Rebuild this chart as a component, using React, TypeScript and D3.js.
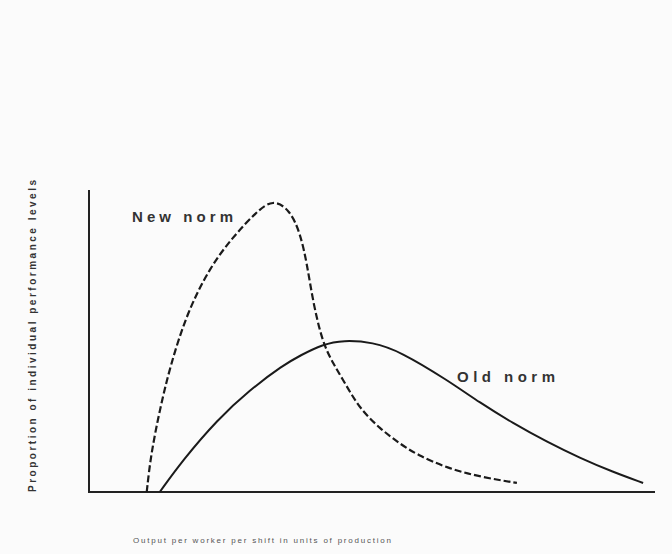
import React, { useEffect, useRef } from 'react';
import * as d3 from 'd3';

const W = 672;
const H = 554;

// output level (0-100 of axis) vs relative frequency (0-100 of axis)
const newNormX = [10.2, 10.9, 12.5, 14.3, 17.3, 21.4, 25.4, 29.6, 32.5, 35.5, 37.3, 38.5, 39.6, 41.3, 43.1, 45.6, 47.9, 51.4, 54.9, 58.0, 63.3, 69.1, 75.6];
const newNormY = [0, 12.0, 27.2, 41.4, 59.3, 74.5, 84.4, 92.8, 97.0, 93.4, 85.8, 75.8, 62.6, 49.3, 42.7, 34.8, 27.5, 21.0, 16.0, 12.3, 7.9, 5.0, 3.0];

const oldNormX = [12.5, 16.6, 22.6, 28.4, 34.3, 37.3, 41.3, 44.9, 50.2, 54.9, 63.3, 69.1, 74.9, 80.9, 86.7, 92.6, 97.9];
const oldNormY = [0, 10.6, 23.8, 33.8, 42.0, 45.2, 48.9, 50.3, 49.6, 46.6, 37.1, 29.5, 22.8, 16.6, 11.3, 6.6, 3.0];

const seriesNames = ['New norm', 'Old norm'];
const yLabel = 'Proportion of individual performance levels';
const xLabel = 'Output per worker per shift in units of production';

export default function App() {
  const ref = useRef<SVGSVGElement>(null);

  useEffect(() => {
    const svg = d3.select(ref.current);
    svg.selectAll('*').remove();

    const x = d3.scaleLinear().domain([0, 100]).range([89, 655]);
    const y = d3.scaleLinear().domain([0, 100]).range([492, 190]);

    svg.append('rect').attr('width', W).attr('height', H).attr('fill', '#fbfbfb');

    // axes, plain lines without ticks
    svg.append('line')
      .attr('x1', x(0)).attr('x2', x(0))
      .attr('y1', y(0) + 1).attr('y2', y(100))
      .attr('stroke', '#222').attr('stroke-width', 2);
    svg.append('line')
      .attr('x1', x(0)).attr('x2', x(100))
      .attr('y1', y(0)).attr('y2', y(0))
      .attr('stroke', '#222').attr('stroke-width', 2);

    const line = d3.line<[number, number]>()
      .x(d => x(d[0]))
      .y(d => y(d[1]))
      .curve(d3.curveBasis);

    const newPts = newNormX.map((v, i) => [v, newNormY[i]] as [number, number]);
    const oldPts = oldNormX.map((v, i) => [v, oldNormY[i]] as [number, number]);

    svg.append('path')
      .attr('d', line(oldPts))
      .attr('fill', 'none')
      .attr('stroke', '#1a1a1a')
      .attr('stroke-width', 2);

    svg.append('path')
      .attr('d', line(newPts))
      .attr('fill', 'none')
      .attr('stroke', '#1a1a1a')
      .attr('stroke-width', 2.2)
      .attr('stroke-dasharray', '7,3');

    // curve labels
    const font = 'Liberation Sans, Arial, sans-serif';
    svg.append('text')
      .attr('x', 132).attr('y', 222)
      .attr('font-family', font)
      .attr('font-size', 15).attr('font-weight', 'bold')
      .attr('textLength', 101).attr('lengthAdjust', 'spacing')
      .attr('fill', '#333')
      .text(seriesNames[0]);
    svg.append('text')
      .attr('x', 457).attr('y', 382)
      .attr('font-family', font)
      .attr('font-size', 15).attr('font-weight', 'bold')
      .attr('textLength', 98).attr('lengthAdjust', 'spacing')
      .attr('fill', '#333')
      .text(seriesNames[1]);

    // axis titles
    svg.append('text')
      .attr('transform', `translate(36,${336}) rotate(-90)`)
      .attr('text-anchor', 'middle')
      .attr('font-family', font)
      .attr('font-size', 10).attr('font-weight', 'bold')
      .attr('textLength', 312).attr('lengthAdjust', 'spacing')
      .attr('fill', '#333')
      .text(yLabel);
    svg.append('text')
      .attr('x', 262).attr('y', 543)
      .attr('text-anchor', 'middle')
      .attr('font-family', font)
      .attr('font-size', 8)
      .attr('textLength', 258).attr('lengthAdjust', 'spacing')
      .attr('fill', '#555')
      .text(xLabel);
  }, []);

  return (
    <svg ref={ref} width={W} height={H}
      style={{ position: 'absolute', left: 0, top: 0, display: 'block' }} />
  );
}
